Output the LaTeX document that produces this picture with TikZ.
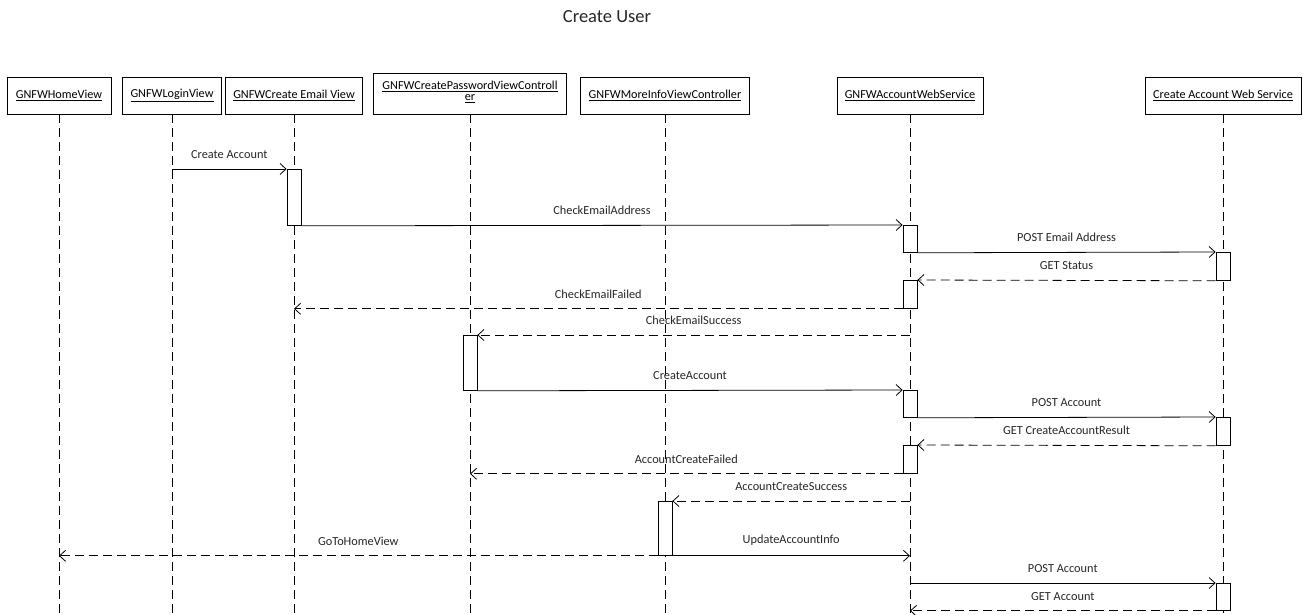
\documentclass[tikz,border=0pt]{standalone}
\usepackage{fontspec}
\setmainfont{Carlito}
\usetikzlibrary{arrows.meta}

\begin{document}
\begin{tikzpicture}[x=1pt,y=-1pt,line width=0.8pt,
  obj/.style={draw,minimum height=37,inner sep=2pt,font=\fontsize{12.2}{14}\selectfont},
  act/.style={draw,fill=white,minimum width=14,inner sep=0,anchor=north},
  life/.style={dash pattern=on 9pt off 5pt},
  msg/.style={-{Straight Barb[length=6pt,width=11pt]}},
  ret/.style={msg,dash pattern=on 9pt off 5pt},
  lbl/.style={midway,above=8pt,inner sep=2pt,font=\fontsize{12.3}{14}\selectfont,text=black!85}]
\useasboundingbox (0,0) rectangle (1308,615);
\coordinate (bot) at (0,615);
\node[font=\fontsize{18.5}{22}\selectfont,text=black!85] (title) at (607,17) {Create User};
\node[obj,minimum width=104] (home) at (59,95.5) {\underline{GNFWHomeView}};
\node[obj,minimum width=99] (login) at (172,95.5) {\underline{GNFWLoginView}};
\node[obj,minimum width=137] (email) at (294,95.5) {\underline{GNFWCreate Email View}};
\node[obj,minimum width=193,minimum height=41,align=center,font=\fontsize{12.2}{11.5}\selectfont] (passwd) at (470,93.5)
  {\underline{GNFWCreatePasswordViewControll}\\\underline{er}\\[-6pt]};
\node[obj,minimum width=169] (moreinfo) at (665,95.5) {\underline{GNFWMoreInfoViewController}};
\node[obj,minimum width=146] (acctws) at (910,95.5) {\underline{GNFWAccountWebService}};
\node[obj,minimum width=156] (createws) at (1223,95.5) {\underline{Create Account Web Service}};
\foreach \n in {home,login,email,passwd,moreinfo,acctws,createws}
  \draw[life] (\n.south) -- (\n |- bot);
\node[act,minimum height=56] (a1) at (294,169) {};
\node[act,minimum height=27] (w1) at (910,225) {};
\node[act,minimum height=28] (c1) at (1223,252) {};
\node[act,minimum height=28] (w2) at (910,280) {};
\node[act,minimum height=55] (p1) at (470,335) {};
\node[act,minimum height=27] (w3) at (910,390) {};
\node[act,minimum height=28] (c2) at (1223,417) {};
\node[act,minimum height=28] (w4) at (910,445) {};
\node[act,minimum height=54] (m1) at (665,501) {};
\node[act,minimum height=27] (c3) at (1223,583) {};
\draw[msg] (login |- a1.north) -- node[lbl]{Create Account} (a1.north west);
\draw[msg] (a1.south east) -- node[lbl]{CheckEmailAddress} (w1.north west);
\draw[msg] (w1.south east) -- node[lbl]{POST Email Address} (c1.north west);
\draw[ret] (c1.south west) -- node[lbl]{GET Status} (w2.north east);
\draw[ret] (w2.south west) -- node[lbl]{CheckEmailFailed} (email |- w2.south);
\draw[ret] (acctws |- p1.north) -- node[lbl]{CheckEmailSuccess} (p1.north east);
\draw[msg] (p1.south east) -- node[lbl]{CreateAccount} (w3.north west);
\draw[msg] (w3.south east) -- node[lbl]{POST Account} (c2.north west);
\draw[ret] (c2.south west) -- node[lbl]{GET CreateAccountResult} (w4.north east);
\draw[ret] (w4.south west) -- node[lbl]{AccountCreateFailed} (passwd |- w4.south);
\draw[ret] (acctws |- m1.north) -- node[lbl]{AccountCreateSuccess} (m1.north east);
\draw[msg] (m1.south east) -- node[lbl]{UpdateAccountInfo} (acctws |- m1.south);
\draw[ret] (m1.south west) -- node[lbl]{GoToHomeView} (home |- m1.south);
\draw[msg] (acctws |- c3.north) -- node[lbl]{POST Account} (c3.north west);
\draw[ret] (c3.south west) -- node[lbl]{GET Account} (acctws |- c3.south);
\end{tikzpicture}
\end{document}
